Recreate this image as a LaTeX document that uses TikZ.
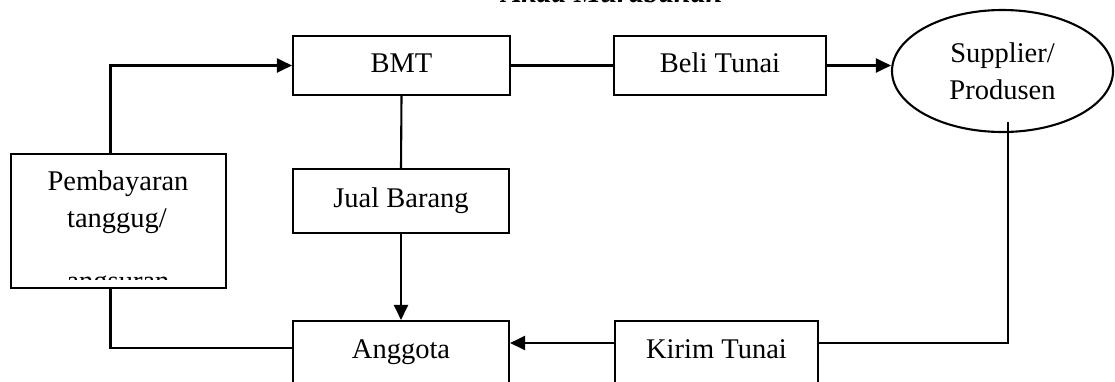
\documentclass[tikz,border=0pt]{standalone}
\usepackage{fontspec}
\setmainfont{Liberation Serif}
\usetikzlibrary{arrows.meta,shapes.geometric}

\begin{document}
\begin{tikzpicture}[x=1pt,y=-1pt,
  line width=2.1pt,
  every node/.style={font=\fontsize{28.5pt}{37pt}\selectfont},
  box/.style={draw,rectangle,inner sep=0pt,text height=20pt,text depth=7pt},
  flow/.style={-{Triangle[length=15pt,width=14pt]}},
  link/.style={}
]
  % page area
  \useasboundingbox (0,0) rectangle (1115,381);
  \clip (0,0) rectangle (1115,381);

  % heading
  \node[anchor=base,font=\fontsize{30pt}{36pt}\selectfont\bfseries\itshape] (title) at (612,2.5) {Akad Murabahah};

  % boxes
  \node[box,minimum width=217pt,minimum height=59pt] (bmt)  at (401.5,65.5) {BMT};
  \node[box,minimum width=212pt,minimum height=59pt] (beli) at (720,65.5) {Beli Tunai};
  \node[box,minimum width=216pt,minimum height=64pt] (jual) at (401,201) {Jual Barang};
  \node[box,minimum width=216pt,minimum height=62pt] (ang)  at (401,352) {Anggota};
  \node[box,minimum width=203pt,minimum height=62pt] (kirim) at (716.5,352) {Kirim Tunai};
  \node[draw,ellipse,inner sep=0pt,minimum width=221pt,minimum height=122pt,align=center] (sup) at (1002.5,71) {Supplier/\\Produsen};

  % payment box with its text
  \node[draw,rectangle,inner sep=0pt,minimum width=215pt,minimum height=134pt] (pb) at (118.5,221) {};
  \node[anchor=base] (pbA) at (118,190) {Pembayaran};
  \node[anchor=base] (pbB) at (117,227) {tanggug/};
  \begin{scope}
    \clip (13,156) rectangle (224,279);
    \node[anchor=base] (pbC) at (118,290.5) {angsuran};
  \end{scope}

  % connector end points
  \coordinate (supfoot) at (1008,122);
  \coordinate (kirimR) at ([yshift=9pt]kirim.east);
  \coordinate (kirimL) at ([yshift=9pt]kirim.west);
  \coordinate (angR)   at ([yshift=9pt]ang.east);
  \coordinate (angL)   at ([yshift=4pt]ang.west);
  \coordinate (pbTop)  at ([xshift=-8pt]pb.north);
  \coordinate (pbBot)  at ([xshift=-8pt]pb.south);

  % connectors
  \draw[flow] (pbTop) |- (bmt.west);
  \draw[link] (bmt.east) -- (beli.west);
  \draw[flow] (beli.east) -- (beli.east -| sup.west);
  \draw[link] (supfoot) |- (kirimR);
  \draw[flow] (kirimL) -- (angR);
  \draw[link] (bmt.south) -- (jual.north);
  \draw[flow] (jual.south) -- (ang.north);
  \draw[link] (pbBot) |- (angL);
\end{tikzpicture}
\end{document}
